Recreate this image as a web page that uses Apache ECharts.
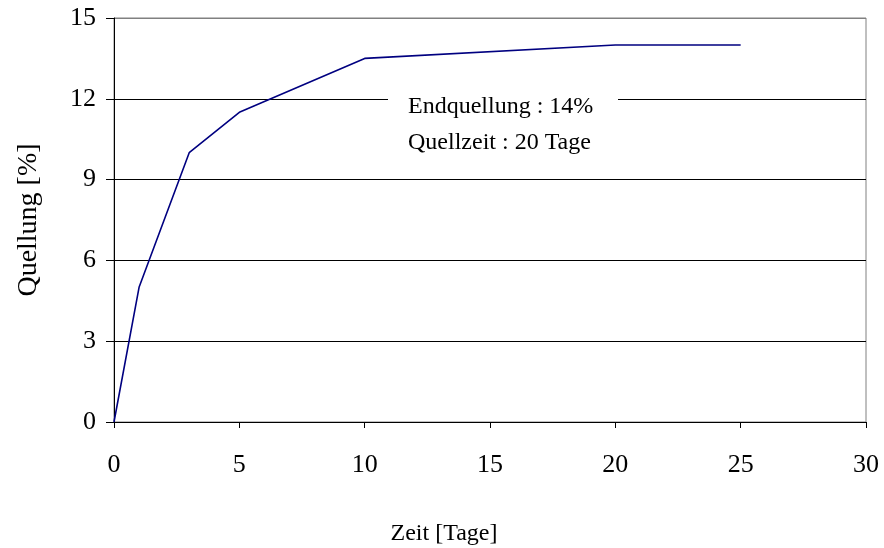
<!DOCTYPE html>
<html lang="de">
<head>
    <meta charset="UTF-8">
    <title>Quellung</title>
    <script src="https://cdn.jsdelivr.net/npm/echarts@6/dist/echarts.min.js"></script>
</head>
<body style="margin:0;background:#fff;">
<div id="main" style="width:884px;height:548px;"></div>
<script type="text/javascript">
    // Quellung ueber die Zeit
    var zeit = [0, 1, 3, 5, 10, 20, 25];
    var quellung = [0, 5, 10, 11.5, 13.5, 14, 14];
    var yTicks = [0, 3, 6, 9, 12, 15];
    var xTicks = [0, 5, 10, 15, 20, 25, 30];
    var notiz = ['Endquellung : 14%', 'Quellzeit : 20 Tage'];

    var serif = '"Liberation Serif", "DejaVu Serif", serif';
    var myChart = echarts.init(document.getElementById('main'));
    var option = {
        backgroundColor: '#fff',
        animation: false,
        grid: {
            left: 114, right: 18, top: 18, bottom: 126,
            outerBoundsMode: 'none',
            containLabel: false,
            show: true, borderColor: '#808080', borderWidth: 1
        },
        xAxis: {
            type: 'value',
            min: xTicks[0], max: xTicks[xTicks.length - 1], interval: 5,
            name: 'Zeit [Tage]',
            nameLocation: 'middle',
            nameGap: 100,
            nameTextStyle: {
                fontFamily: serif, fontSize: 24, color: '#000',
                padding: [0, 92, 0, 0]
            },
            axisLine: { lineStyle: { color: '#000', width: 1 } },
            axisTick: { show: true, inside: false, length: 6, lineStyle: { color: '#000' } },
            axisLabel: { fontFamily: serif, fontSize: 26, color: '#000', margin: 30 },
            splitLine: { show: false }
        },
        yAxis: {
            type: 'value',
            min: yTicks[0], max: yTicks[yTicks.length - 1], interval: 3,
            name: 'Quellung [%]',
            nameLocation: 'middle',
            nameGap: 71,
            nameTextStyle: { fontFamily: serif, fontSize: 28, color: '#000' },
            axisLine: { show: true, lineStyle: { color: '#000', width: 1 } },
            axisTick: { show: true, inside: false, length: 8, lineStyle: { color: '#000' } },
            axisLabel: { fontFamily: serif, fontSize: 26, color: '#000', margin: 18 },
            splitLine: {
                show: true,
                lineStyle: { color: ['#000', '#000', '#000', '#000', '#000', '#808080'], width: 1 }
            }
        },
        series: [{
            type: 'line',
            data: zeit.map(function (x, i) { return [x, quellung[i]]; }),
            symbol: 'none',
            lineStyle: { color: '#000080', width: 1.6 },
            z: 3
        }],
        graphic: [{
            type: 'rect',
            shape: { x: 388, y: 84, width: 230, height: 80 },
            style: { fill: '#fff' },
            z: 10
        }, {
            type: 'text',
            x: 408, y: 89,
            style: {
                text: notiz.join('\n'),
                fontFamily: serif, fontSize: 24, lineHeight: 36, fill: '#000'
            },
            z: 11
        }]
    };
    myChart.setOption(option);
</script>
</body>
</html>
